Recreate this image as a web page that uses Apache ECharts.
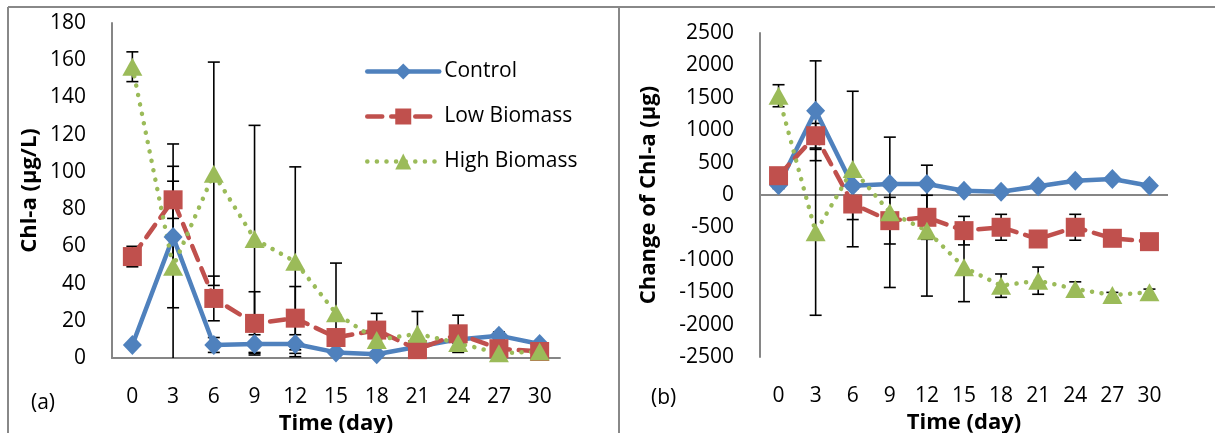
<!DOCTYPE html>
<html>
<head>
<meta charset="utf-8">
<script src="https://cdn.jsdelivr.net/npm/echarts@6/dist/echarts.min.js"></script>
<style>
html,body{margin:0;padding:0;background:#fff;}
#chart{width:1215px;height:433px;}
</style>
</head>
<body>
<div id="chart"></div>
<script>
// ---- data ----
var days = ['0','3','6','9','12','15','18','21','24','27','30'];
var seriesNames = ['Control','Low Biomass','High Biomass'];

// panel (a): Chl-a (µg/L)
var ctrlA = [7, 65, 7, 7.5, 7.5, 3, 2, 6, 10, 12, 7.5];
var lowA  = [54.5, 85, 32, 18.6, 21.4, 11, 15, 4.5, 13, 5, 3.5];
var highA = [156.5, 49, 99, 64, 51.7, 24, 9.7, 13, 8, 2.5, 3.5];
var ctrlAErr = [1, 38, 4, 5, 5, 1, 1, 1, 2, 2, 1];
var lowAErr  = [5.5, 10, 12, 17, 17, 3, 9, 2, 10, 2, 1];
var highAErr = [8, 66, 60, 61, 51, 27, 3, 12, 3, 1, 1];

// panel (b): Change of Chl-a (µg)
var ctrlB = [150, 1300, 143, 170, 170, 66, 51, 134, 221, 247, 144];
var lowB  = [298, 915, -139, -396, -344, -550, -498, -679, -498, -668, -720];
var highB = [1532, -576, 401, -267, -550, -1116, -1399, -1322, -1450, -1543, -1502];
var ctrlBErr = [50, 770, 40, 40, 40, 30, 30, 30, 30, 30, 30];
var lowBErr  = [40, 190, 240, 360, 340, 220, 200, 30, 200, 30, 30];
var highBErr = [170, 1280, 1200, 1160, 1010, 530, 180, 210, 110, 40, 50];

var yTicksA = {min: 0, max: 180, interval: 20};
var yTicksB = {min: -2500, max: 2500, interval: 500};

// ---- styling ----
var colors = ['#4F81BD', '#C0504D', '#9BBB59'];
var FONT = 'Open Sans';
var axisGrey = '#868686';
var lineTypes = ['solid', [15, 9], [0.1, 9.5]];
var symbols = ['diamond', 'rect', 'triangle'];
var symbolSizes = [[19, 20], [19, 19], [20, 18]];

function lineSeries(name, data, idx, gi) {
  return {
    name: name, type: 'line', data: data,
    xAxisIndex: gi, yAxisIndex: gi,
    z: 3, animation: false,
    symbol: symbols[idx], symbolSize: symbolSizes[idx],
    lineStyle: {color: colors[idx], width: 4.5, type: lineTypes[idx], cap: 'round'},
    itemStyle: {color: colors[idx], opacity: 1}
  };
}

function errSeries(name, vals, errs, gi, ymin) {
  var d = vals.map(function (v, i) { return [i, v, errs[i]]; });
  return {
    name: name, type: 'custom', xAxisIndex: gi, yAxisIndex: gi,
    data: d, z: 2, animation: false, silent: true,
    renderItem: function (params, api) {
      var x = api.value(0), y = api.value(1), e = api.value(2);
      var hi = y + e, lo = y - e, loClipped = false;
      if (lo < ymin) { lo = ymin; loClipped = true; }
      var p1 = api.coord([x, hi]), p2 = api.coord([x, lo]);
      var w = 6;
      var st = {stroke: '#000', lineWidth: 1.6};
      var ch = [
        {type: 'line', shape: {x1: p1[0], y1: p1[1], x2: p2[0], y2: p2[1]}, style: st},
        {type: 'line', shape: {x1: p1[0] - w, y1: p1[1], x2: p1[0] + w, y2: p1[1]}, style: st}
      ];
      if (!loClipped) ch.push({type: 'line', shape: {x1: p2[0] - w, y1: p2[1], x2: p2[0] + w, y2: p2[1]}, style: st});
      return {type: 'group', children: ch};
    }
  };
}

var labelText = {color: '#000', fontFamily: FONT, fontSize: 21};
var nameText = {color: '#000', fontFamily: FONT, fontSize: 22, fontWeight: 'bold'};

var chart = echarts.init(document.getElementById('chart'), null, {renderer: 'canvas'});
var option = {
  backgroundColor: '#fff',
  animation: false,
  grid: [
    {left: 112, right: 655, top: 23, bottom: 75, containLabel: false, outerBoundsMode: 'none'},
    {left: 760, right: 47, top: 33, bottom: 76, containLabel: false, outerBoundsMode: 'none'}
  ],
  legend: {
    data: seriesNames.map(function (n, i) {
      return {name: n, lineStyle: {width: 4.5, type: lineTypes[i], cap: 'round', color: colors[i]}};
    }),
    orient: 'vertical',
    left: 365, top: 61, padding: 0,
    itemWidth: 72, itemHeight: 20, itemGap: 24,
    textStyle: {color: '#000', fontFamily: FONT, fontSize: 21},
    selectedMode: false
  },
  xAxis: [
    {
      gridIndex: 0, type: 'category', data: days, boundaryGap: true,
      axisLine: {show: true, lineStyle: {color: axisGrey, width: 2}},
      axisTick: {show: false},
      axisLabel: Object.assign({margin: 29}, labelText),
      name: 'Time (day)', nameLocation: 'middle', nameGap: 46, nameTextStyle: nameText,
      splitLine: {show: false}
    },
    {
      gridIndex: 1, type: 'category', data: days, boundaryGap: true,
      axisLine: {show: false, onZero: false},
      axisTick: {show: false},
      axisLabel: Object.assign({margin: 29}, labelText),
      name: 'Time (day)', nameLocation: 'middle', nameGap: 46, nameTextStyle: nameText,
      splitLine: {show: false}
    }
  ],
  yAxis: [
    {
      gridIndex: 0, type: 'value', min: yTicksA.min, max: yTicksA.max, interval: yTicksA.interval,
      axisLine: {show: true, lineStyle: {color: axisGrey, width: 2}},
      axisTick: {show: false},
      axisLabel: Object.assign({margin: 26, formatter: function (v) { return String(v); }}, labelText),
      splitLine: {show: false},
      name: 'Chl-a (µg/L)', nameLocation: 'middle', nameGap: 71, nameRotate: 90, nameTextStyle: nameText
    },
    {
      gridIndex: 1, type: 'value', min: yTicksB.min, max: yTicksB.max, interval: yTicksB.interval,
      axisLine: {show: true, lineStyle: {color: axisGrey, width: 2}},
      axisTick: {show: false},
      axisLabel: Object.assign({margin: 26, formatter: function (v) { return String(v); }}, labelText),
      splitLine: {show: false},
      name: 'Change of Chl-a (µg)', nameLocation: 'middle', nameGap: 100, nameRotate: 90, nameTextStyle: nameText
    }
  ],
  graphic: [
    {type: 'line', shape: {x1: 8, y1: 7, x2: 1215, y2: 7}, style: {stroke: '#888', lineWidth: 2}, z: 100},
    {type: 'line', shape: {x1: 8, y1: 7, x2: 8, y2: 433}, style: {stroke: '#888', lineWidth: 2}, z: 100},
    {type: 'line', shape: {x1: 619, y1: 7, x2: 619, y2: 433}, style: {stroke: '#888', lineWidth: 2}, z: 100},
    {type: 'text', left: 31, top: 393, style: {text: '(a)', fill: '#000', font: '21px "Open Sans"'}},
    {type: 'text', left: 651, top: 388, style: {text: '(b)', fill: '#000', font: '21px "Open Sans"'}}
  ],
  series: [
    errSeries('errA0', ctrlA, ctrlAErr, 0, yTicksA.min),
    errSeries('errA1', lowA, lowAErr, 0, yTicksA.min),
    errSeries('errA2', highA, highAErr, 0, yTicksA.min),
    lineSeries('Control', ctrlA, 0, 0),
    lineSeries('Low Biomass', lowA, 1, 0),
    lineSeries('High Biomass', highA, 2, 0),
    errSeries('errB0', ctrlB, ctrlBErr, 1, yTicksB.min),
    errSeries('errB1', lowB, lowBErr, 1, yTicksB.min),
    errSeries('errB2', highB, highBErr, 1, yTicksB.min),
    Object.assign(lineSeries('Control', ctrlB, 0, 1), {
      markLine: {silent: true, symbol: 'none', label: {show: false},
        lineStyle: {color: axisGrey, width: 2, type: 'solid'}, data: [{yAxis: 0}], z: 1}
    }),
    lineSeries('Low Biomass', lowB, 1, 1),
    lineSeries('High Biomass', highB, 2, 1)
  ]
};
chart.setOption(option);
</script>
</body>
</html>
